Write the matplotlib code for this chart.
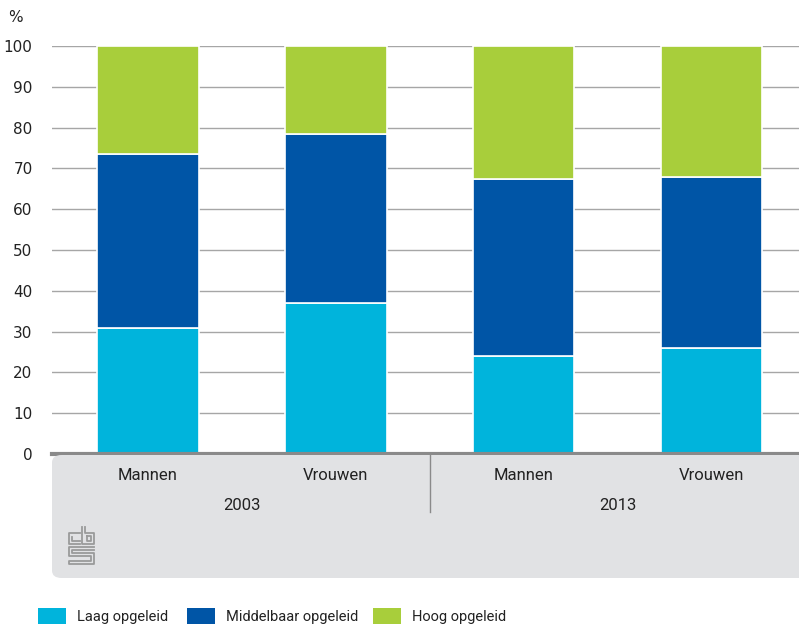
import matplotlib
matplotlib.use("Agg")
import matplotlib.pyplot as plt
from matplotlib.patches import FancyBboxPatch, Rectangle
from matplotlib.lines import Line2D
import numpy as np

categories = ["Mannen", "Vrouwen", "Mannen", "Vrouwen"]
years = ["2003", "2013"]
laag = [31, 37, 24, 26]
middelbaar = [42.5, 41.5, 43.5, 42]
hoog = [26.5, 21.5, 32.5, 32]
series_names = ["Laag opgeleid", "Middelbaar opgeleid", "Hoog opgeleid"]
colors = ["#00b4dc", "#0055a6", "#a8ce3b"]
yticks = [0, 10, 20, 30, 40, 50, 60, 70, 80, 90, 100]

W, H = 799, 627
plt.rcParams['font.family'] = ['DejaVu Sans']
NARROW = ['Roboto', 'DejaVu Sans']
fig = plt.figure(figsize=(W / 100, H / 100), dpi=100)

def px(x, y):
    return (x / W, 1 - y / H)

# gray band beneath axis
bx0, by0 = px(52, 578)
bx1, by1 = px(800, 455)
band = FancyBboxPatch((bx0, by0), bx1 - bx0 + 0.02, by1 - by0,
                      boxstyle="round,pad=0,rounding_size=0.012",
                      transform=fig.transFigure, facecolor="#e1e2e4",
                      edgecolor="none", zorder=0)
fig.patches.append(band)

ax = fig.add_axes([52 / W, 1 - 454 / H, (800 - 52) / W, (454 - 46) / H])
x = np.arange(len(categories))
bw = 0.54
vals = [laag, middelbaar, hoog]
bottom = np.zeros(len(categories))
for v, c, n in zip(vals, colors, series_names):
    ax.bar(x, v, bw, bottom=bottom, color=c, edgecolor="white", linewidth=1.2,
           label=n, zorder=3)
    bottom += np.array(v)

ax.set_xlim(-0.51, 3.47)
ax.set_ylim(0, 100)
ax.set_yticks(yticks)
ax.set_yticklabels([str(t) for t in yticks], fontsize=11, color="#222222")
ax.tick_params(axis="y", length=0, pad=14)
ax.set_xticks([])
ax.grid(axis="y", color="#a6a6a6", linewidth=1, zorder=0)
for s in ["top", "right", "left"]:
    ax.spines[s].set_visible(False)
ax.spines["bottom"].set_color("#8a8a8a")
ax.spines["bottom"].set_linewidth(3)
ax.spines["bottom"].set_zorder(4)
ax.patch.set_alpha(0)

# category labels
for i, c in enumerate(categories):
    xd = ax.transData.transform((i, 0))[0]
    fig.text(xd / W, 1 - 476 / H, c, ha="center", va="center", fontsize=12,
             family=NARROW, color="#222222")
for j, yv in enumerate(years):
    xd = ax.transData.transform((2 * j + 0.5, 0))[0]
    fig.text(xd / W, 1 - 506 / H, yv, ha="center", va="center", fontsize=12,
             family=NARROW, color="#222222")
fig.lines.append(Line2D([430 / W, 430 / W], [1 - 455 / H, 1 - 512 / H],
                        transform=fig.transFigure, color="#8a8a8a", linewidth=1))

fig.text(8 / W, 1 - 18 / H, "%", ha="left", va="center", fontsize=11, color="#222222")

# logo approximation
lc = "#9a9a9a"
def pl(pts):
    xs = [p[0] / W for p in pts]
    ys = [1 - p[1] / H for p in pts]
    fig.lines.append(Line2D(xs, ys, transform=fig.transFigure, color=lc, linewidth=1.3))
pl([(80, 533), (69, 533), (69, 544), (80, 544)])
pl([(72, 537), (72, 541), (80, 541)])
pl([(82, 527), (82, 544), (94, 544), (94, 533), (85, 533), (85, 527)])
pl([(87, 536), (91, 536), (91, 541), (87, 541), (87, 536)])
pl([(94, 547), (69, 547), (69, 556), (91, 556), (91, 561), (69, 561), (69, 564), (94, 564), (94, 553), (72, 553), (72, 550), (94, 550)])

# legend
lx = [38, 187, 373]
for xx, c, n in zip(lx, colors, series_names):
    fig.patches.append(Rectangle(px(xx, 624), 28 / W, 16 / H, transform=fig.transFigure,
                                 facecolor=c, edgecolor="none"))
    fig.text((xx + 39) / W, 1 - 617 / H, n, ha="left", va="center", fontsize=10.5,
             family=NARROW, color="#222222")

fig.savefig("out.png", dpi=100)
